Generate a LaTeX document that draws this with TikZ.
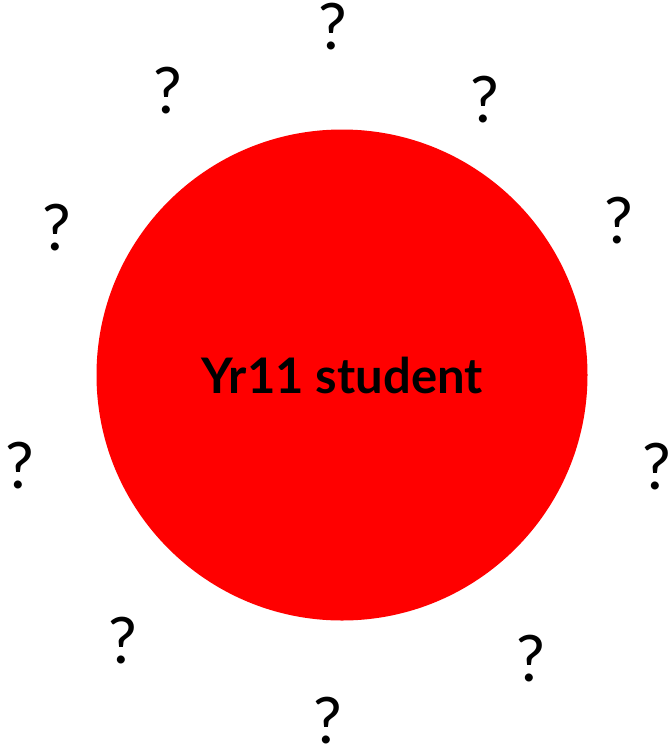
\documentclass[tikz,border=0pt]{standalone}
\usepackage{fontspec}
\setmainfont{Lato}
\usepackage{tikz}
\usetikzlibrary{positioning}

\tikzset{
    qmark/.style={inner sep=0pt, anchor=center, font=\fontsize{64}{64}\selectfont},
    student/.style={circle, fill=red, inner sep=0pt, minimum size=491pt, font=\fontsize{49}{49}\selectfont\bfseries}
}

\begin{document}
\begin{tikzpicture}[x=1pt, y=-1pt]
    \useasboundingbox (0,0) rectangle (672,750);
    % Central circle
    \node[student] (yr11) at (342,375) {Yr11 student};
    % Question marks around it
    \foreach \qx/\qy [count=\i] in {333/27, 168/91, 485/100, 57/228, 619/221, 20/466, 657/467, 123/641, 531/659, 328/721}
        \node[qmark] (q\i) at (\qx,\qy) {?};
\end{tikzpicture}
\end{document}
